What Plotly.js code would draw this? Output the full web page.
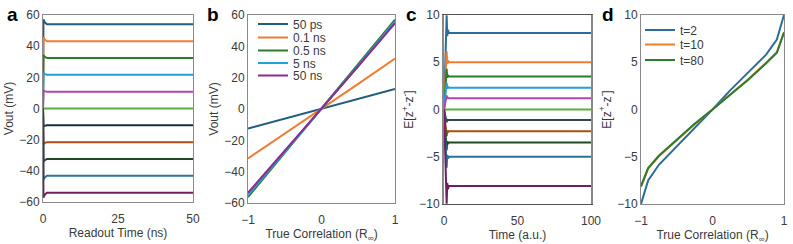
<!DOCTYPE html>
<html><head><meta charset="utf-8">
<script src="https://cdn.plot.ly/plotly-3.0.1.min.js"></script>
<style>body{margin:0;background:#fff}#g{width:793px;height:244px}</style>
</head><body><div id="g"></div>
<script>
// ---------- data ----------
// panel a: readout traces (settled levels, mV) and normalized step response
const levelsA = [54, 43.2, 32.4, 21.6, 10.8, 0, -10.8, -21.6, -32.4, -43.2, -54];
const timeA = [0, 0.15, 0.5, 1.3, 50];
const shapeA = [0, 1.06, 1.03, 1.0, 1.0];
const colorsA = ['#1f5e7e','#ed7d31','#2a7d2e','#23a0dc','#b444b4','#5aad3c','#112e44','#a94f12','#1d4a22','#29739a','#6e1f5f'];

// panel b: Vout vs true correlation
const corrB = [-1, -0.5, 0, 0.5, 1];
const namesB = ['50 ps','0.1 ns','0.5 ns','5 ns','50 ns'];
const colorsB = ['#1f5e7e','#ed7d31','#2a7d2e','#23a0dc','#8e2a8e'];
const valuesB = [
  [-12.5, -6.2, 0, 6.3, 12.8],
  [-31.5, -15.8, 0, 16.0, 32.2],
  [-56.2, -28.0, 0, 28.3, 57.0],
  [-55.0, -27.4, 0, 27.7, 56.0],
  [-53.5, -26.8, 0, 27.2, 54.8]
];

// panel c: E[z+ - z-] vs time
const levelsC = [8.1, 5.0, 3.5, 2.3, 1.2, 0, -1.1, -2.3, -3.5, -5.0, -8.1];
const timeC = [0, 1.8, 2.2, 2.7, 3.3, 100];
const shapeC = [0, 1.23, 0.96, 1.04, 1.0, 1.0];
const colorsC = ['#2b6d98','#ed7d31','#2a7d2e','#23a0dc','#b444b4','#5aad3c','#2e4656','#a94f12','#1d4a22','#29739a','#6e1f5f'];

// panel d: E[z+ - z-] vs true correlation
const corrD = [-1, -0.9, -0.75, -0.5, -0.25, 0, 0.25, 0.5, 0.75, 0.9, 1];
const namesD = ['t=2','t=10','t=80'];
const colorsD = ['#2b6d98','#ed7d31','#2a7d2e'];
const valuesD = [
  [-10, -7.5, -5.85, -3.9, -2.05, 0, 2.05, 3.9, 5.8, 7.4, 10],
  [-8.2, -6.25, -4.95, -3.2, -1.55, 0, 1.55, 3.2, 4.95, 6.05, 8.2],
  [-8.1, -6.2, -4.9, -3.15, -1.5, 0, 1.55, 3.15, 4.9, 6.0, 8.15]
];

// ---------- traces ----------
const traces = [];
levelsA.forEach((lv, i) => traces.push({
  x: timeA, y: shapeA.map(s => s * lv), xaxis: 'x', yaxis: 'y', mode: 'lines',
  line: {color: colorsA[i], width: 2}, showlegend: false, hoverinfo: 'skip'
}));
namesB.forEach((n, i) => traces.push({
  x: corrB, y: valuesB[i], xaxis: 'x2', yaxis: 'y2', mode: 'lines', name: n,
  line: {color: colorsB[i], width: 2}, legend: i === 0 ? 'legend' : 'legend' + (i + 1)
}));
levelsC.forEach((lv, i) => traces.push({
  x: timeC, y: shapeC.map(s => s * lv), xaxis: 'x3', yaxis: 'y3', mode: 'lines',
  line: {color: colorsC[i], width: 2}, showlegend: false, hoverinfo: 'skip'
}));
namesD.forEach((n, i) => traces.push({
  x: corrD, y: valuesD[i], xaxis: 'x4', yaxis: 'y4', mode: 'lines', name: n,
  line: {color: colorsD[i], width: 2}, legend: 'legend' + (i + 6)
}));

// ---------- layout ----------
const W = 793, H = 244;
const px = v => v / W, py = v => 1 - v / H;
const font = {family: 'Liberation Sans, Arial, sans-serif', size: 12, color: '#3a3a3a'};
function ax(domain, range, tickvals, title, extra) {
  return Object.assign({
    domain: domain, range: range, tickvals: tickvals, ticks: '', showgrid: false,
    zeroline: false, showline: true, mirror: true, linecolor: '#8a8a8a', linewidth: 1,
    tickfont: font, title: {text: title, font: font, standoff: 3}, fixedrange: true
  }, extra || {});
}
const xt = {ticks: 'outside', ticklen: 6, tickcolor: 'rgba(0,0,0,0)'};
const layout = {
  width: W, height: H, margin: {l: 0, r: 0, t: 0, b: 0},
  paper_bgcolor: '#fff', plot_bgcolor: '#fff', font: font, showlegend: true,
  xaxis:  ax([px(43), px(193)], [0, 50], [0, 25, 50], 'Readout Time (ns)', Object.assign({anchor: 'y'}, xt)),
  yaxis:  ax([py(202), py(15)], [-60, 60], [-60, -40, -20, 0, 20, 40, 60], 'Vout (mV)', {anchor: 'x'}),
  xaxis2: ax([px(248), px(395)], [-1, 1], [-1, 0, 1], 'True Correlation (R<sub>∞</sub>)', Object.assign({anchor: 'y2'}, xt)),
  yaxis2: ax([py(203), py(15)], [-60, 60], [-60, -40, -20, 0, 20, 40, 60], 'Vout (mV)', {anchor: 'x2'}),
  xaxis3: ax([px(444), px(591)], [0, 100], [0, 50, 100], 'Time (a.u.)', Object.assign({anchor: 'y3', linecolor: '#555'}, xt)),
  yaxis3: ax([py(204), py(15)], [-10, 10], [-10, -5, 0, 5, 10], 'E[z<sup>+</sup>-z<sup>-</sup>]', {anchor: 'x3', linecolor: '#888', linewidth: 2}),
  xaxis4: ax([px(641), px(784)], [-1, 1], [-1, 0, 1], 'True Correlation (R<sub>∞</sub>)', Object.assign({anchor: 'y4'}, xt)),
  yaxis4: ax([py(204), py(15)], [-10, 10], [-10, -5, 0, 5, 10], 'E[z<sup>+</sup>-z<sup>-</sup>]', {anchor: 'x4'}),
  annotations: [['a', 5], ['b', 205], ['c', 404], ['d', 600]].map(([t, x]) => ({
    text: '<b>' + t + '</b>', x: px(x), y: py(2), xref: 'paper', yref: 'paper',
    xanchor: 'left', yanchor: 'top', showarrow: false,
    font: {family: 'Liberation Sans, Arial, sans-serif', size: 19, color: '#000'}
  }))
};
const legB = [24, 37.5, 50.5, 63, 75.5];
legB.forEach((y, i) => {
  layout[i === 0 ? 'legend' : 'legend' + (i + 1)] = {
    x: px(253), y: py(y), xanchor: 'left', yanchor: 'middle',
    bgcolor: 'rgba(0,0,0,0)', borderwidth: 0, font: font
  };
});
const legD = [30, 44.5, 60];
legD.forEach((y, i) => {
  layout['legend' + (i + 6)] = {
    x: px(640), y: py(y), xanchor: 'left', yanchor: 'middle',
    bgcolor: 'rgba(0,0,0,0)', borderwidth: 0, font: font
  };
});
Plotly.newPlot('g', traces, layout, {staticPlot: true, displayModeBar: false});
</script></body></html>
